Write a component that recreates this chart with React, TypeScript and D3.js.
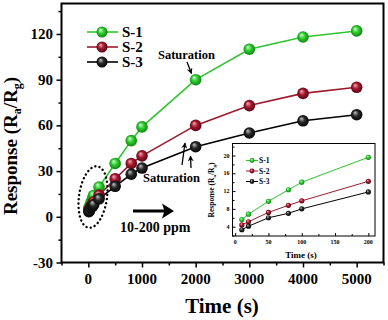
import React, { useEffect, useRef } from "react";
import * as d3 from "d3";

// time (s) at which each response was measured
const times = [10, 20, 50, 80, 100, 200, 500, 800, 1000, 2000, 3000, 4000, 5000];
const s1 = [5.6, 6.8, 9.7, 12.3, 14, 19.6, 35, 50, 59, 90, 110, 118, 122];
const s2 = [4.4, 5.1, 7.2, 8.8, 9.8, 14.2, 25, 35, 40, 60, 73, 81, 85];
const s3 = [3.3, 4.1, 6.0, 7.0, 8.0, 11.8, 20, 28, 32, 46, 55, 63, 67];
const seriesNames = ["S-1", "S-2", "S-3"];

const xTicks = [0, 1000, 2000, 3000, 4000, 5000];
const yTicks = [-30, 0, 30, 60, 90, 120];
const insetXTicks = [0, 50, 100, 150, 200];
const insetYTicks = [4, 8, 12, 16, 20];
const insetCount = 6; // first points (10-200 s) shown in the inset

const lineColors = ["#2fc52f", "#9c1a2c", "#000000"];
const grads = [
  ["#d8ffd8", "#2fcf2f", "#0c7a0c"],
  ["#f4b0b8", "#a81c30", "#4e0010"],
  ["#c8c8c8", "#2a2a2a", "#000000"],
];

const FONT = "'Liberation Serif', 'Times New Roman', serif";

export default function App() {
  const ref = useRef<SVGSVGElement>(null);

  useEffect(() => {
    const svg = d3.select(ref.current);
    svg.selectAll("*").remove();
    const W = 388, H = 320;
    const left = 61.5, right = 383.5, top = 3.5, bottom = 262.5;

    const data = [s1, s2, s3].map(vals => times.map((t, i) => ({ t, v: vals[i] })));

    const defs = svg.append("defs");
    grads.forEach((g, i) => {
      const rg = defs.append("radialGradient")
        .attr("id", `ball${i}`)
        .attr("cx", "50%").attr("cy", "50%").attr("r", "55%")
        .attr("fx", "35%").attr("fy", "30%");
      rg.append("stop").attr("offset", "0%").attr("stop-color", g[0]);
      rg.append("stop").attr("offset", "45%").attr("stop-color", g[1]);
      rg.append("stop").attr("offset", "100%").attr("stop-color", g[2]);
    });
    defs.append("marker")
      .attr("id", "arr")
      .attr("viewBox", "0 0 10 10")
      .attr("refX", 9).attr("refY", 5)
      .attr("markerWidth", 6).attr("markerHeight", 6)
      .attr("orient", "auto-start-reverse")
      .attr("markerUnits", "userSpaceOnUse")
      .append("path").attr("d", "M0,0 L10,5 L0,10 L3,5 Z").attr("fill", "#000");

    svg.append("rect").attr("width", W).attr("height", H).attr("fill", "#fff");

    const x = d3.scaleLinear().domain([-500, 5500]).range([left, right]);
    const y = d3.scaleLinear().domain([-30, 140]).range([bottom, top]);

    // frame
    svg.append("rect")
      .attr("x", left).attr("y", top)
      .attr("width", right - left).attr("height", bottom - top)
      .attr("fill", "none").attr("stroke", "#000").attr("stroke-width", 2);

    const xAxis = svg.append("g")
      .attr("transform", `translate(0,${bottom})`)
      .call(d3.axisBottom(x).tickValues(d3.range(-500, 5501, 500)).tickSize(4).tickFormat(() => ""));
    xAxis.select(".domain").remove();
    xAxis.selectAll(".tick line").attr("stroke-width", 1.5)
      .attr("y2", (d: any) => (d % 1000 === 0 ? 5 : 3));
    svg.append("g").selectAll("text").data(xTicks).join("text")
      .attr("x", d => x(d)).attr("y", 284)
      .attr("text-anchor", "middle")
      .attr("font-family", FONT).attr("font-weight", "bold").attr("font-size", 15)
      .text(d => d);

    const yAxis = svg.append("g")
      .attr("transform", `translate(${left},0)`)
      .call(d3.axisLeft(y).tickValues(d3.range(-30, 141, 15)).tickSize(4).tickFormat(() => ""));
    yAxis.select(".domain").remove();
    yAxis.selectAll(".tick line").attr("stroke-width", 1.5)
      .attr("x2", (d: any) => (d % 30 === 0 ? -5 : -3));
    svg.append("g").selectAll("text").data(yTicks).join("text")
      .attr("x", 53).attr("y", d => y(d) + 5)
      .attr("text-anchor", "end")
      .attr("font-family", FONT).attr("font-weight", "bold").attr("font-size", 15)
      .text(d => d);

    // axis titles
    svg.append("text")
      .attr("x", 222).attr("y", 313)
      .attr("text-anchor", "middle")
      .attr("font-family", FONT).attr("font-weight", "bold").attr("font-size", 21)
      .text("Time (s)");
    const yl = svg.append("text")
      .attr("transform", "translate(17,146) rotate(-90)")
      .attr("text-anchor", "middle")
      .attr("font-family", FONT).attr("font-weight", "bold").attr("font-size", 19);
    yl.append("tspan").text("Response (R");
    yl.append("tspan").attr("font-size", 12).attr("dy", 4).text("a");
    yl.append("tspan").attr("dy", -4).text("/R");
    yl.append("tspan").attr("font-size", 12).attr("dy", 4).text("g");
    yl.append("tspan").attr("dy", -4).text(")");

    // main series
    const line = d3.line<{ t: number; v: number }>().x(d => x(d.t)).y(d => y(d.v));
    data.forEach((ser, i) => {
      svg.append("path").datum(ser)
        .attr("d", line)
        .attr("fill", "none").attr("stroke", lineColors[i]).attr("stroke-width", 1.6);
    });
    data.forEach((ser, i) => {
      svg.append("g").selectAll("circle").data(ser).join("circle")
        .attr("cx", d => x(d.t)).attr("cy", d => y(d.v)).attr("r", 5.8)
        .attr("fill", `url(#ball${i})`);
    });

    // legend
    seriesNames.forEach((name, i) => {
      const ly = 32 + i * 15;
      svg.append("line").attr("x1", 87).attr("x2", 118).attr("y1", ly).attr("y2", ly)
        .attr("stroke", lineColors[i]).attr("stroke-width", 1.6);
      svg.append("circle").attr("cx", 102).attr("cy", ly).attr("r", 5.5).attr("fill", `url(#ball${i})`);
      svg.append("text").attr("x", 122).attr("y", ly + 5)
        .attr("font-family", FONT).attr("font-weight", "bold").attr("font-size", 15)
        .text(name);
    });

    // annotations
    const ann = (tx: number, ty: number, t: string, size: number) =>
      svg.append("text").attr("x", tx).attr("y", ty)
        .attr("font-family", FONT).attr("font-weight", "bold").attr("font-size", size).text(t);
    ann(158, 59, "Saturation", 12.5);
    ann(143, 182, "Saturation", 12.5);
    ann(120, 232, "10-200 ppm", 14);
    const arrow = (x1: number, y1: number, x2: number, y2: number, w: number) =>
      svg.append("line").attr("x1", x1).attr("y1", y1).attr("x2", x2).attr("y2", y2)
        .attr("stroke", "#000").attr("stroke-width", w).attr("marker-end", "url(#arr)");
    arrow(187, 62, 191.5, 73.5, 1.3);
    arrow(182, 165, 185, 143, 1.3);
    arrow(191, 168, 190.5, 156, 1.3);

    // big arrow
    svg.append("line").attr("x1", 133).attr("x2", 166).attr("y1", 211).attr("y2", 211)
      .attr("stroke", "#000").attr("stroke-width", 3.2);
    svg.append("path").attr("d", "M174,211 L162,203.5 L164.5,211 L162,218.5 Z").attr("fill", "#000");

    // dotted ellipse
    svg.append("ellipse")
      .attr("cx", 93).attr("cy", 197).attr("rx", 14).attr("ry", 31)
      .attr("transform", "rotate(8,93,197)")
      .attr("fill", "none").attr("stroke", "#000").attr("stroke-width", 2.4)
      .attr("stroke-linecap", "round").attr("stroke-dasharray", "0.1 4.2");

    // inset
    const il = 232.5, ir = 375, it = 143.5, ib = 236;
    const xi = d3.scaleLinear().domain([-4, 210]).range([il, ir]);
    const yi = d3.scaleLinear().domain([1.9, 22.7]).range([ib, it]);
    svg.append("rect").attr("x", il).attr("y", it).attr("width", ir - il).attr("height", ib - it)
      .attr("fill", "#fff").attr("stroke", "#000").attr("stroke-width", 1);
    const ixa = svg.append("g").attr("transform", `translate(0,${ib})`)
      .call(d3.axisBottom(xi).tickValues(d3.range(0, 201, 25)).tickSize(-2).tickFormat(() => ""));
    ixa.select(".domain").remove();
    ixa.selectAll(".tick line").attr("y2", (d: any) => (d % 50 === 0 ? -3 : -2));
    svg.append("g").selectAll("text").data(insetXTicks).join("text")
      .attr("x", d => xi(d)).attr("y", 244)
      .attr("text-anchor", "middle")
      .attr("font-family", FONT).attr("font-weight", "bold").attr("font-size", 6)
      .text(d => d);
    const iya = svg.append("g").attr("transform", `translate(${il},0)`)
      .call(d3.axisLeft(yi).tickValues(d3.range(2, 23, 2)).tickSize(-2).tickFormat(() => ""));
    iya.select(".domain").remove();
    iya.selectAll(".tick line").attr("x2", (d: any) => (d % 4 === 0 ? 3 : 2));
    svg.append("g").selectAll("text").data(insetYTicks).join("text")
      .attr("x", 229.5).attr("y", d => yi(d) + 2)
      .attr("text-anchor", "end")
      .attr("font-family", FONT).attr("font-weight", "bold").attr("font-size", 6)
      .text(d => d);
    svg.append("text").attr("x", 301).attr("y", 258)
      .attr("text-anchor", "middle")
      .attr("font-family", FONT).attr("font-weight", "bold").attr("font-size", 9)
      .text("Time (s)");
    const iyl = svg.append("text")
      .attr("transform", "translate(214,190) rotate(-90)")
      .attr("text-anchor", "middle")
      .attr("font-family", FONT).attr("font-weight", "bold").attr("font-size", 7.5);
    iyl.append("tspan").text("Response (R");
    iyl.append("tspan").attr("font-size", 5).attr("dy", 1.5).text("a");
    iyl.append("tspan").attr("dy", -1.5).text("/R");
    iyl.append("tspan").attr("font-size", 5).attr("dy", 1.5).text("g");
    iyl.append("tspan").attr("dy", -1.5).text(")");

    const iline = d3.line<{ t: number; v: number }>().x(d => xi(d.t)).y(d => yi(d.v));
    data.forEach((ser, i) => {
      const sub = ser.slice(0, insetCount);
      svg.append("path").datum(sub).attr("d", iline)
        .attr("fill", "none").attr("stroke", lineColors[i]).attr("stroke-width", 1);
      svg.append("g").selectAll("circle").data(sub).join("circle")
        .attr("cx", d => xi(d.t)).attr("cy", d => yi(d.v)).attr("r", 2.6)
        .attr("fill", `url(#ball${i})`);
    });
    seriesNames.forEach((name, i) => {
      const ly = 160.5 + i * 10.5;
      svg.append("line").attr("x1", 246).attr("x2", 258).attr("y1", ly).attr("y2", ly)
        .attr("stroke", lineColors[i]).attr("stroke-width", 1);
      svg.append("circle").attr("cx", 252).attr("cy", ly).attr("r", 2.4).attr("fill", `url(#ball${i})`);
      svg.append("text").attr("x", 259).attr("y", ly + 2.5)
        .attr("font-family", FONT).attr("font-weight", "bold").attr("font-size", 7.5)
        .text(name);
    });
  }, []);

  return (
    <svg
      ref={ref}
      width={388}
      height={320}
      style={{ position: "absolute", left: 0, top: 0, display: "block" }}
    />
  );
}
